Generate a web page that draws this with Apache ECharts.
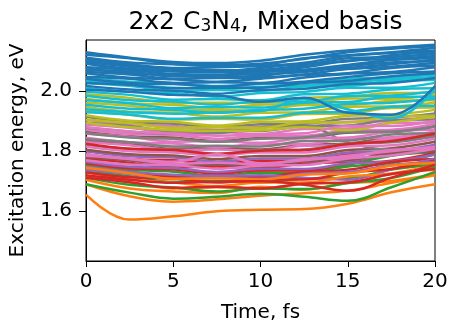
<!DOCTYPE html>
<html>
<head>
<meta charset="utf-8">
<script src="https://cdn.jsdelivr.net/npm/echarts@6/dist/echarts.min.js"></script>
<style>
  html, body { margin: 0; padding: 0; background: #fff; }
  #chart { width: 451px; height: 328px; }
</style>
</head>
<body>
<div id="chart"></div>
<script>
// Sampling times (fs)
const timeFs = [0, 2.5, 5, 7.5, 10, 12.5, 15, 17.5, 20];

// Excitation energies (eV) of each state, grouped by plotting colour
const blueStates = [
  [2.130, 2.112, 2.098, 2.094, 2.102, 2.122, 2.136, 2.146, 2.155],
  [2.122, 2.110, 2.092, 2.088, 2.092, 2.108, 2.130, 2.142, 2.150],
  [2.112, 2.096, 2.090, 2.084, 2.088, 2.110, 2.120, 2.130, 2.145],
  [2.106, 2.090, 2.078, 2.080, 2.084, 2.095, 2.118, 2.128, 2.136],
  [2.095, 2.086, 2.076, 2.066, 2.078, 2.092, 2.100, 2.120, 2.130],
  [2.092, 2.075, 2.066, 2.064, 2.066, 2.080, 2.102, 2.108, 2.118],
  [2.080, 2.072, 2.058, 2.056, 2.064, 2.072, 2.088, 2.104, 2.110],
  [2.076, 2.060, 2.054, 2.046, 2.052, 2.070, 2.078, 2.090, 2.106],
  [2.064, 2.056, 2.042, 2.044, 2.046, 2.056, 2.074, 2.082, 2.094],
  [2.060, 2.045, 2.040, 2.032, 2.042, 2.054, 2.060, 2.078, 2.086],
  [2.048, 2.042, 2.028, 2.030, 2.028, 2.046, 2.058, 2.064, 2.080],
  [2.042, 2.028, 2.024, 2.016, 2.026, 2.032, 2.048, 2.060, 2.066],
  [2.028, 2.022, 2.010, 2.012, 2.012, 2.028, 2.034, 2.050, 2.060],
  [2.005, 1.998, 1.988, 1.986, 1.965, 1.978, 1.928, 1.922, 2.017],
  [2.018, 2.006, 2.002, 1.992, 2.004, 2.008, 2.024, 2.028, 2.044],
  [2.100, 2.082, 2.072, 2.070, 2.072, 2.086, 2.110, 2.114, 2.124],
  [2.070, 2.066, 2.050, 2.052, 2.058, 2.064, 2.084, 2.096, 2.100]
];
const orangeStates = [
  [1.655, 1.572, 1.583, 1.600, 1.605, 1.607, 1.625, 1.663, 1.690],
  [1.690, 1.650, 1.632, 1.640, 1.652, 1.660, 1.668, 1.695, 1.720],
  [1.705, 1.676, 1.666, 1.661, 1.682, 1.672, 1.694, 1.701, 1.724],
  [1.718, 1.697, 1.676, 1.680, 1.676, 1.692, 1.696, 1.724, 1.738],
  [1.730, 1.706, 1.696, 1.684, 1.696, 1.696, 1.716, 1.726, 1.754],
  [1.745, 1.727, 1.708, 1.710, 1.706, 1.722, 1.726, 1.752, 1.761]
];
const greenStates = [
  [1.755, 1.738, 1.732, 1.718, 1.729, 1.728, 1.749, 1.761, 1.789],
  [1.732, 1.717, 1.698, 1.702, 1.696, 1.709, 1.711, 1.739, 1.756],
  [1.745, 1.728, 1.716, 1.712, 1.715, 1.730, 1.755, 1.785, 1.800],
  [1.712, 1.688, 1.679, 1.666, 1.676, 1.674, 1.694, 1.711, 1.749],
  [1.690, 1.662, 1.642, 1.648, 1.658, 1.648, 1.635, 1.680, 1.731]
];
const redStates = [
  [1.790, 1.774, 1.770, 1.758, 1.769, 1.768, 1.789, 1.796, 1.819],
  [1.775, 1.762, 1.746, 1.749, 1.744, 1.759, 1.766, 1.789, 1.796],
  [1.760, 1.743, 1.739, 1.726, 1.736, 1.736, 1.759, 1.768, 1.794],
  [1.745, 1.732, 1.716, 1.719, 1.714, 1.732, 1.738, 1.764, 1.774],
  [1.730, 1.713, 1.709, 1.696, 1.706, 1.706, 1.729, 1.741, 1.769],
  [1.720, 1.705, 1.695, 1.698, 1.700, 1.688, 1.668, 1.712, 1.755],
  [1.712, 1.697, 1.678, 1.682, 1.676, 1.692, 1.696, 1.724, 1.741],
  [1.825, 1.808, 1.804, 1.791, 1.802, 1.804, 1.824, 1.834, 1.859]
];
const purpleStates = [
  [1.800, 1.783, 1.779, 1.766, 1.776, 1.776, 1.796, 1.801, 1.822],
  [1.782, 1.770, 1.754, 1.756, 1.751, 1.766, 1.768, 1.792, 1.796],
  [1.765, 1.748, 1.744, 1.731, 1.742, 1.741, 1.759, 1.766, 1.789],
  [1.748, 1.732, 1.722, 1.718, 1.720, 1.712, 1.705, 1.740, 1.775],
  [1.738, 1.724, 1.708, 1.712, 1.708, 1.726, 1.731, 1.754, 1.764]
];
const brownStates = [
  [1.865, 1.850, 1.846, 1.834, 1.844, 1.844, 1.862, 1.864, 1.884],
  [1.835, 1.824, 1.808, 1.812, 1.806, 1.822, 1.826, 1.846, 1.850],
  [1.805, 1.790, 1.786, 1.774, 1.784, 1.784, 1.804, 1.810, 1.832],
  [1.780, 1.770, 1.754, 1.756, 1.751, 1.766, 1.771, 1.794, 1.800]
];
const pinkStates = [
  [1.905, 1.890, 1.884, 1.872, 1.882, 1.882, 1.898, 1.902, 1.918],
  [1.888, 1.878, 1.862, 1.864, 1.858, 1.874, 1.876, 1.894, 1.896],
  [1.872, 1.858, 1.854, 1.842, 1.852, 1.852, 1.870, 1.872, 1.892],
  [1.858, 1.848, 1.832, 1.834, 1.828, 1.844, 1.846, 1.866, 1.872],
  [1.845, 1.830, 1.826, 1.814, 1.824, 1.824, 1.842, 1.846, 1.866],
  [1.830, 1.820, 1.804, 1.806, 1.800, 1.818, 1.820, 1.842, 1.846],
  [1.815, 1.800, 1.796, 1.786, 1.796, 1.796, 1.816, 1.820, 1.842],
  [1.790, 1.775, 1.765, 1.790, 1.760, 1.770, 1.785, 1.800, 1.815],
  [1.785, 1.774, 1.758, 1.762, 1.756, 1.774, 1.780, 1.804, 1.808],
  [1.770, 1.756, 1.754, 1.742, 1.752, 1.754, 1.776, 1.786, 1.808],
  [1.880, 1.866, 1.858, 1.852, 1.856, 1.860, 1.884, 1.884, 1.902]
];
const grayStates = [
  [1.915, 1.898, 1.892, 1.882, 1.890, 1.892, 1.908, 1.912, 1.926],
  [1.895, 1.884, 1.868, 1.870, 1.868, 1.884, 1.886, 1.904, 1.906],
  [1.878, 1.866, 1.858, 1.860, 1.880, 1.885, 1.830, 1.805, 1.810],
  [1.860, 1.846, 1.842, 1.832, 1.842, 1.846, 1.864, 1.866, 1.882],
  [1.840, 1.830, 1.816, 1.818, 1.816, 1.834, 1.836, 1.856, 1.860],
  [1.822, 1.808, 1.804, 1.792, 1.804, 1.806, 1.826, 1.830, 1.850]
];
const oliveStates = [
  [1.990, 1.978, 1.962, 1.962, 1.962, 1.978, 1.982, 1.994, 1.995],
  [1.975, 1.960, 1.955, 1.945, 1.955, 1.958, 1.976, 1.975, 1.988],
  [1.962, 1.952, 1.936, 1.938, 1.936, 1.954, 1.954, 1.968, 1.970],
  [1.948, 1.932, 1.928, 1.916, 1.928, 1.930, 1.948, 1.950, 1.962],
  [1.935, 1.922, 1.906, 1.908, 1.906, 1.924, 1.926, 1.944, 1.946],
  [1.920, 1.902, 1.898, 1.886, 1.898, 1.900, 1.918, 1.922, 1.938],
  [1.905, 1.894, 1.878, 1.880, 1.878, 1.896, 1.896, 1.916, 1.918],
  [1.895, 1.880, 1.870, 1.868, 1.870, 1.880, 1.870, 1.895, 1.915]
];
const cyanStates = [
  [2.045, 2.032, 2.028, 2.018, 2.024, 2.028, 2.042, 2.046, 2.056],
  [2.028, 2.018, 2.002, 2.004, 2.002, 2.016, 2.018, 2.034, 2.038],
  [2.012, 1.998, 1.994, 1.982, 1.994, 1.998, 2.012, 2.012, 2.028],
  [1.998, 1.988, 1.972, 1.974, 1.970, 1.990, 1.992, 2.006, 2.010],
  [1.985, 1.970, 1.966, 1.955, 1.966, 1.966, 1.984, 1.986, 2.000],
  [1.970, 1.960, 1.944, 1.948, 1.946, 1.962, 1.964, 1.982, 1.982],
  [1.955, 1.942, 1.938, 1.928, 1.938, 1.942, 1.958, 1.962, 1.975],
  [1.940, 1.930, 1.925, 1.930, 1.934, 1.975, 1.940, 1.910, 2.005],
  [1.930, 1.922, 1.908, 1.912, 1.912, 1.928, 1.932, 1.948, 1.952],
  [2.035, 2.024, 2.012, 2.010, 2.014, 2.020, 2.030, 2.040, 2.048]
];

const yTicks = [1.6, 1.8, 2.0];

// Colour groups in the default matplotlib cycle order
const groups = [
  { color: '#1f77b4', states: blueStates },
  { color: '#ff7f0e', states: orangeStates },
  { color: '#2ca02c', states: greenStates },
  { color: '#d62728', states: redStates },
  { color: '#9467bd', states: purpleStates },
  { color: '#8c564b', states: brownStates },
  { color: '#e377c2', states: pinkStates },
  { color: '#7f7f7f', states: grayStates },
  { color: '#bcbd22', states: oliveStates },
  { color: '#17becf', states: cyanStates }
];

// Interleave the groups so colours are drawn in cycling order
const series = [];
const rounds = Math.max(...groups.map(g => g.states.length));
for (let i = 0; i < rounds; i++) {
  groups.forEach(g => {
    const s = g.states[i];
    if (!s) return;
    series.push({
      type: 'line',
      data: timeFs.map((t, k) => [t, s[k]]),
      smooth: 0.4,
      showSymbol: false,
      lineStyle: { color: g.color, width: 2.5 },
      itemStyle: { color: g.color },
      silent: true
    });
  });
}

const font = 'DejaVu Sans';
const chart = echarts.init(document.getElementById('chart'), null, { renderer: 'canvas' });
chart.setOption({
  animation: false,
  backgroundColor: '#fff',
  title: {
    text: '2x2 C{sub|3}N{sub|4}, Mixed basis',
    left: 260.5,
    textAlign: 'center',
    top: 4,
    textStyle: {
      fontFamily: font, fontSize: 25, fontWeight: 'normal', color: '#000',
      rich: { sub: { fontFamily: font, fontSize: 17, color: '#000', verticalAlign: 'bottom', padding: [9, 0, 0, 0] } }
    }
  },
  grid: {
    left: 86, right: 16, top: 40, bottom: 65,
    show: true, borderColor: '#000', borderWidth: 1, backgroundColor: 'transparent'
  },
  xAxis: {
    type: 'value', min: 0, max: 20, interval: 5,
    name: 'Time, fs', nameLocation: 'middle', nameGap: 42,
    nameTextStyle: { fontFamily: font, fontSize: 20, color: '#000' },
    axisLine: { show: true, lineStyle: { color: '#000', width: 1 } },
    axisTick: { show: true, inside: false, length: 6, lineStyle: { color: '#000' } },
    axisLabel: { fontFamily: font, fontSize: 20, color: '#000', margin: 11 },
    splitLine: { show: false }
  },
  yAxis: {
    type: 'value', min: 1.434, max: 2.171,
    name: 'Excitation energy, eV', nameLocation: 'middle', nameGap: 58, nameRotate: 90,
    nameTextStyle: { fontFamily: font, fontSize: 20, color: '#000' },
    axisLine: { show: true, lineStyle: { color: '#000', width: 1 } },
    axisTick: { show: true, inside: false, length: 7, customValues: yTicks, lineStyle: { color: '#000' } },
    axisLabel: { fontFamily: font, fontSize: 20, color: '#000', margin: 14, customValues: yTicks,
      formatter: v => v.toFixed(1) },
    splitLine: { show: false }
  },
  series: series
});
</script>
</body>
</html>
